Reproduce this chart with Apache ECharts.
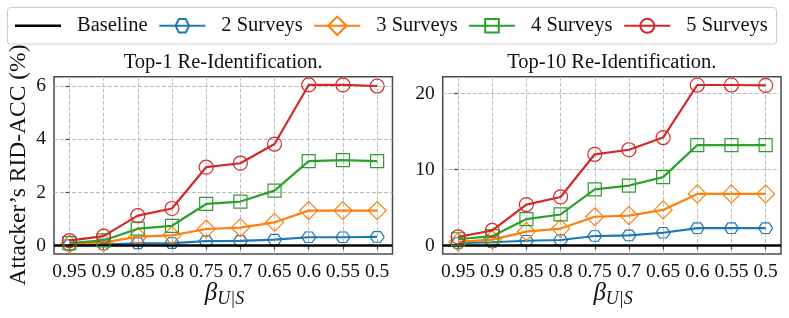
<!DOCTYPE html>
<html>
<head>
<meta charset="utf-8">
<script src="https://cdn.jsdelivr.net/npm/echarts@6/dist/echarts.min.js"></script>
<style>html,body{margin:0;padding:0;background:#fff}#c{width:789px;height:318px}</style>
</head>
<body>
<div id="c"></div>
<script>
// ---- data ----
const xLabels = ['0.95','0.9','0.85','0.8','0.75','0.7','0.65','0.6','0.55','0.5'];
const seriesNames = ['2 Surveys','3 Surveys','4 Surveys','5 Surveys'];
const baselineValue = 0;
const top1_2 = [0.02,0.05,0.09,0.10,0.17,0.18,0.23,0.32,0.32,0.33];
const top1_3 = [0.06,0.12,0.34,0.39,0.63,0.68,0.88,1.32,1.32,1.32];
const top1_4 = [0.10,0.20,0.64,0.75,1.57,1.66,2.07,3.18,3.22,3.18];
const top1_5 = [0.19,0.36,1.13,1.40,2.95,3.10,3.82,6.04,6.04,6.00];
const top10_2 = [0.35,0.45,0.65,0.75,1.27,1.35,1.70,2.30,2.30,2.30];
const top10_3 = [0.50,0.80,1.85,2.25,3.80,3.95,4.70,6.80,6.80,6.80];
const top10_4 = [0.85,1.25,3.50,4.10,7.40,7.90,9.00,13.20,13.20,13.20];
const top10_5 = [1.15,2.00,5.40,6.40,12.00,12.60,14.20,21.10,21.10,21.05];
const yTicks1 = [0,2,4,6];
const yTicks10 = [0,10,20];
const titles = ['Top-1 Re-Identification.','Top-10 Re-Identification.'];

// ---- style ----
const FONT = 'Liberation Serif';
const colors = ['#1f77b4','#ff7f0e','#2ca02c','#d62728'];
const hex = 'path://M0 5.2L3 0L9 0L12 5.2L9 10.4L3 10.4Z';
const symbols = [hex,'diamond','rect','circle'];
const symSizes = [[14,12.2],18,13,14];
const legendH = [17,23,17,17.5];
const G = [{left:54,top:76.7,width:338.5,height:177.3},{left:442.7,top:76.7,width:338.3,height:177.3}];
const AX = '#4a4a4a';

const idx = xLabels.map((_, i) => i);
const toXY = arr => arr.map((v, i) => [idx[i], v]);

function xAxis(g){
  return {type:'value', gridIndex:g, min:-0.45, max:9.45,
    axisLine:{show:false},
    axisTick:{show:true, length:4, lineStyle:{color:AX,width:1.2}, customValues:idx},
    axisLabel:{customValues:idx, formatter:v=>xLabels[Math.round(v)], margin:8,
      fontFamily:FONT, fontSize:19.5, color:'#111'},
    splitLine:{show:true, lineStyle:{color:'#b3b3b3', type:[4,2], width:0.9}}};
}
function yAxis(g, min, max, ticks){
  return {type:'value', gridIndex:g, min:min, max:max,
    axisLine:{show:false},
    axisTick:{show:true, length:4, lineStyle:{color:AX,width:1.2}, customValues:ticks},
    axisLabel:{customValues:ticks, formatter:v=>String(v), margin:8,
      fontFamily:FONT, fontSize:19.5, color:'#111'},
    splitLine:{show:true, lineStyle:{color:'#b3b3b3', type:[4,2], width:0.9}}};
}

const series = [];
[[top1_2,top1_3,top1_4,top1_5],[top10_2,top10_3,top10_4,top10_5]].forEach((set, g) => {
  set.forEach((arr, k) => {
    series.push({type:'line', name:seriesNames[k], xAxisIndex:g, yAxisIndex:g,
      data:toXY(arr), symbol:symbols[k], symbolSize:symSizes[k], symbolKeepAspect:true,
      showAllSymbol:true, z:3+k,
      lineStyle:{color:colors[k], width:2.2},
      itemStyle:{color:'rgba(255,255,255,0)', borderColor:colors[k], borderWidth:1.2},
      emphasis:{disabled:true}});
  });
  series.push({type:'line', name:'Baseline', xAxisIndex:g, yAxisIndex:g, data:[],
    symbol:'none', z:8, lineStyle:{color:'#000', width:2.5}, itemStyle:{color:'#000'},
    markLine:{silent:true, symbol:'none', label:{show:false},
      lineStyle:{color:'#000', width:2.6, type:'solid'}, data:[{yAxis:baselineValue}]}});
});

const LTOP = 15.3;
const legendLeft = [158.3,313.3,468,623.3];
const legends = [{data:[{name:'Baseline', icon:'rect'}], left:15, top:LTOP, padding:0,
  itemWidth:46, itemHeight:2.6, itemStyle:{color:'#000'},
  textStyle:{fontFamily:FONT, fontSize:20.5, color:'#111', padding:[0,0,0,11]}}];
seriesNames.forEach((n, k) => {
  legends.push({data:[n], left:legendLeft[k], top:LTOP, padding:0,
    itemWidth:46, itemHeight:legendH[k],
    textStyle:{fontFamily:FONT, fontSize:20.5, color:'#111', padding:[0,0,0,11]}});
});

const graphics = [
  {type:'rect', shape:{x:7.5, y:7.5, width:769, height:36.5, r:3}, z:-1,
   style:{fill:'#fff', stroke:'#cccccc', lineWidth:1}},
  {type:'text', x:19, y:165, rotation:Math.PI/2,
   style:{text:'Attacker’s RID-ACC (%)', font:'23.5px "Liberation Serif"', fill:'#111',
     textAlign:'center', textVerticalAlign:'middle'}}
];
G.forEach((g, i) => {
  const cx = g.left + g.width/2;
  graphics.push({type:'text', x:cx, y:63, style:{text:titles[i], font:'20.5px "Liberation Serif"',
    fill:'#111', textAlign:'center', textVerticalAlign:'middle'}});
  graphics.push({type:'text', x:cx-6, y:293, style:{text:'β', font:'italic 25px "Liberation Serif"',
    fill:'#111', textAlign:'right', textVerticalAlign:'middle'}});
  graphics.push({type:'text', x:cx-6, y:299, style:{text:'U|S', font:'italic 18px "Liberation Serif"',
    fill:'#111', textAlign:'left', textVerticalAlign:'middle'}});
});

const chart = echarts.init(document.getElementById('c'), null, {renderer:'canvas'});
chart.setOption({
  animation:false,
  backgroundColor:'#fff',
  grid:G.map(g => Object.assign({show:true, borderColor:AX, borderWidth:1.5, backgroundColor:'transparent', containLabel:false}, g)),
  xAxis:[xAxis(0), xAxis(1)],
  yAxis:[yAxis(0,-0.31,6.35,yTicks1), yAxis(1,-1.09,22.19,yTicks10)],
  legend:legends,
  graphic:graphics,
  series:series
});
</script>
</body>
</html>
